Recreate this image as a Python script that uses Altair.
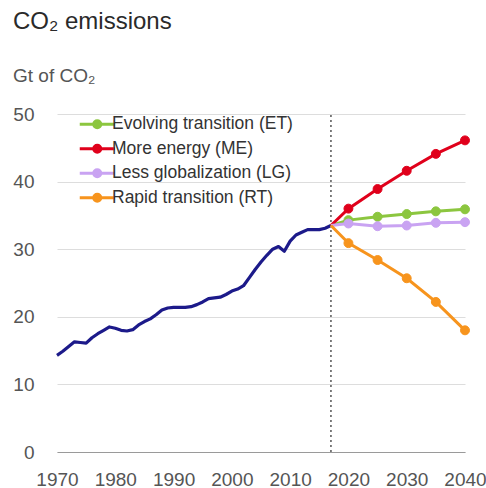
import altair as alt
import pandas as pd

# Historical CO2 emissions, Gt of CO2
hist_years = list(range(1970, 2018))
hist_values = [
    14.3, 14.9, 15.6, 16.3, 16.2, 16.1, 16.9, 17.5, 18.0, 18.5,
    18.3, 18.0, 17.9, 18.1, 18.8, 19.3, 19.7, 20.3, 21.0, 21.3,
    21.4, 21.4, 21.4, 21.5, 21.8, 22.2, 22.7, 22.8, 22.9, 23.3,
    23.8, 24.1, 24.6, 25.8, 27.0, 28.1, 29.1, 30.0, 30.4, 29.7,
    31.2, 32.1, 32.5, 32.9, 32.9, 32.9, 33.1, 33.5,
]

# Scenario projections from the 2017 base year
scen_years = [2017, 2020, 2025, 2030, 2035, 2040]
et_values = [33.5, 34.3, 34.8, 35.2, 35.6, 35.9]
me_values = [33.5, 36.0, 38.9, 41.6, 44.1, 46.1]
lg_values = [33.5, 33.8, 33.4, 33.5, 33.9, 34.0]
rt_values = [33.5, 30.9, 28.4, 25.7, 22.2, 18.0]

scen_names = [
    "Evolving transition (ET)",
    "More energy (ME)",
    "Less globalization (LG)",
    "Rapid transition (RT)",
]
scen_colors = ["#8cc63f", "#e0001b", "#c9a3f2", "#f7941d"]
base_year = 2017

x_ticks = [1970, 1980, 1990, 2000, 2010, 2020, 2030, 2040]
y_ticks = [0, 10, 20, 30, 40, 50]

hist_df = pd.DataFrame({"year": hist_years, "value": hist_values})
scen_df = pd.DataFrame(
    [
        {"year": yr, "value": v, "scenario": name}
        for name, vals in zip(scen_names, [et_values, me_values, lg_values, rt_values])
        for yr, v in zip(scen_years, vals)
    ]
)
rule_df = pd.DataFrame({"year": [base_year], "lo": [0], "hi": [50]})

font = "Liberation Sans"

x_enc = alt.X(
    "year:Q",
    scale=alt.Scale(domain=[1970, 2040], nice=False, zero=False),
    axis=alt.Axis(
        values=x_ticks,
        format="d",
        title=None,
        grid=False,
        ticks=False,
        tickSize=0,
        domain=True,
        domainColor="#9a9a9a",
        domainWidth=1.2,
        labelFontSize=19,
        labelColor="#555555",
        labelPadding=18,
        labelFlush=False,
        labelOverlap=False,
    ),
)
y_enc = alt.Y(
    "value:Q",
    scale=alt.Scale(domain=[0, 50], nice=False),
    axis=alt.Axis(
        values=y_ticks,
        title=None,
        grid=True,
        gridColor="#dddddd",
        gridWidth=1,
        domain=False,
        ticks=False,
        tickSize=0,
        labelFontSize=19,
        labelColor="#555555",
        labelPadding=23,
    ),
)

color_scale = alt.Scale(domain=scen_names, range=scen_colors)

# Legend symbol: a short line with a dot in the middle
legend = alt.Legend(
    orient="none",
    legendX=31.5,
    legendY=1.5,
    title=None,
    padding=0,
    symbolType="M-5,0L5,0M-1,0A1,1,0,1,1,1,0A1,1,0,1,1,-1,0Z",
    symbolSize=49,
    symbolStrokeWidth=3,
    symbolOpacity=1,
    labelOffset=6,
    labelFontSize=17.5,
    labelColor="#333333",
    labelFont=font,
    labelLimit=400,
    rowPadding=4.5,
)

hist_line = (
    alt.Chart(hist_df)
    .mark_line(color="#1c1a8a", strokeWidth=3.2, strokeJoin="round")
    .encode(x=x_enc, y=y_enc)
)

base_rule = (
    alt.Chart(rule_df)
    .mark_rule(color="#555555", strokeWidth=1.5, strokeDash=[2, 3])
    .encode(x="year:Q", y="lo:Q", y2="hi:Q")
)

scen_lines = (
    alt.Chart(scen_df)
    .mark_line(strokeWidth=3)
    .encode(
        x="year:Q",
        y="value:Q",
        stroke=alt.Stroke("scenario:N", scale=color_scale, sort=scen_names, legend=legend),
        detail="scenario:N",
        order="year:Q",
    )
)

scen_points = (
    alt.Chart(scen_df)
    .transform_filter(alt.datum.year > base_year)
    .mark_point(filled=True, size=80, opacity=1, strokeWidth=1)
    .encode(
        x="year:Q",
        y="value:Q",
        fill=alt.Fill("scenario:N", scale=color_scale, sort=scen_names, legend=legend),
        stroke=alt.Stroke("scenario:N", scale=color_scale, sort=scen_names, legend=legend),
    )
)

chart = (
    alt.layer(hist_line, base_rule, scen_lines, scen_points)
    .properties(
        width=408,
        height=338,
        autosize=alt.AutoSizeParams(type="none"),
        padding={"left": 57, "top": 114, "right": 21, "bottom": 36},
        title=alt.TitleParams(
            text="CO₂ emissions",
            subtitle="Gt of CO₂",
            anchor="start",
            frame="group",
            dx=-44,
            offset=19,
            fontSize=24,
            fontWeight="normal",
            color="#2a2a2a",
            font=font,
            subtitleFontSize=19,
            subtitleColor="#555555",
            subtitleFont=font,
            subtitlePadding=33,
        ),
    )
    .configure(font=font)
    .configure_view(stroke=None)
)

chart.save("out.html", embed_options={"renderer": "svg", "actions": False})
